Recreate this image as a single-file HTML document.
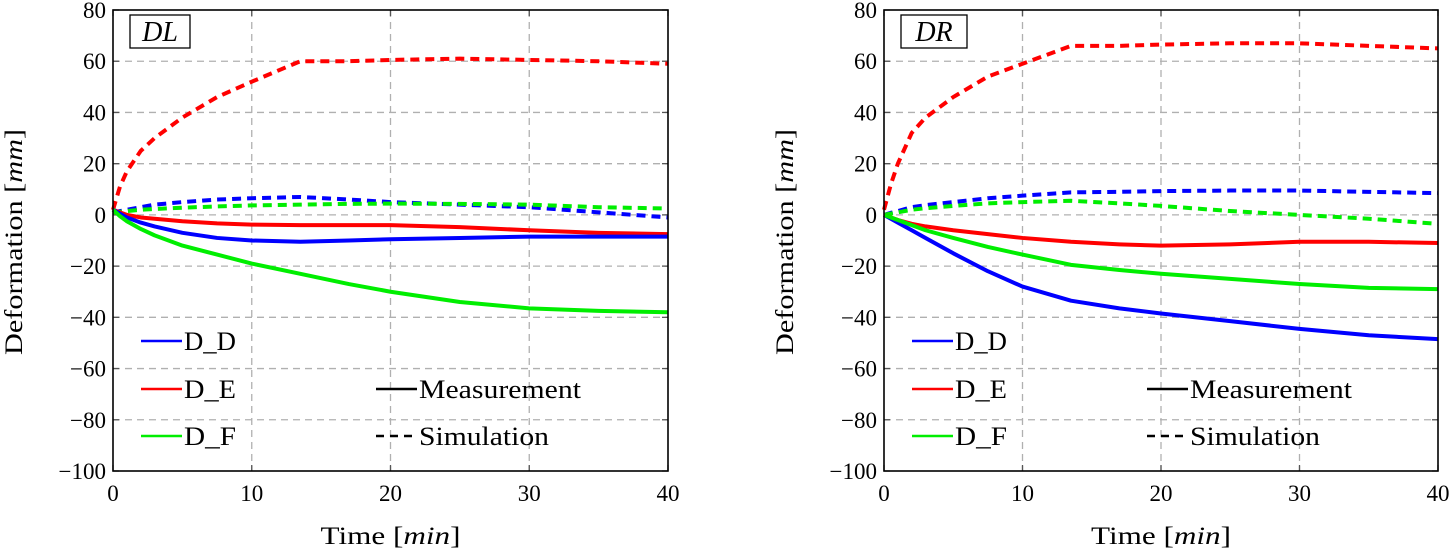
<!DOCTYPE html>
<html><head><meta charset="utf-8"><style>
body{margin:0;background:#fff}
svg{display:block;font-family:"Liberation Serif",serif}
</style></head><body>
<svg id="chart" width="1453" height="552" viewBox="0 0 1453 552"></svg>
<script>
const times=[0,0.5,1,2,3,5,7.5,10,13.5,17,20,25,30,35,40];
const xTicks=[0,10,20,30,40];
const yTicks=[80,60,40,20,0,-20,-40,-60,-80,-100];
const dlRedSim=[2,11,17,25,30,38,46,52,60,60,60.5,61,60.5,60,59];
const dlBlueSim=[1,1.5,2,3,4,5,6,6.5,7,6,5,4,3,1,-1];
const dlGreenSim=[1,1.2,1.5,2,2.3,2.8,3.3,3.7,4,4.3,4.4,4.3,4,3,2.5];
const dlRedMeas=[2,1,0,-1,-1.5,-2.5,-3.3,-3.8,-4,-4,-4,-4.8,-6,-7,-7.5];
const dlBlueMeas=[2,0.5,-1,-3,-4.5,-7,-9,-10,-10.5,-10,-9.5,-9,-8.5,-8.5,-8.5];
const dlGreenMeas=[2,-0.5,-2.5,-5.5,-8,-12,-15.5,-19,-23,-27,-30,-34,-36.5,-37.5,-38];
const drRedSim=[2,12,20,32,38,46,54,59,66,66,66.5,67,67,66,65];
const drBlueSim=[0,0.8,1.5,3,3.8,5,6.5,7.5,8.8,9,9.3,9.5,9.5,9,8.5];
const drGreenSim=[0,0.5,1,2,2.6,3.5,4.5,5,5.5,4.5,3.5,1.5,0,-1.5,-3.5];
const drRedMeas=[0,-1,-2,-3.5,-4.5,-6,-7.5,-9,-10.5,-11.5,-12,-11.5,-10.5,-10.5,-11];
const drBlueMeas=[0,-1.5,-3,-6,-9,-15,-22,-28,-33.5,-36.5,-38.5,-41.5,-44.5,-47,-48.5];
const drGreenMeas=[0,-1,-2,-4,-6,-9,-12.5,-15.5,-19.5,-21.5,-23,-25,-27,-28.5,-29];

const NS="http://www.w3.org/2000/svg";
const svg=document.getElementById('chart');
function mk(tag,attrs,parent,text){const e=document.createElementNS(NS,tag);for(const k in attrs)e.setAttribute(k,attrs[k]);if(text!==undefined)e.textContent=text;(parent||svg).appendChild(e);return e;}

function panel(name,x0,x1,series,label){
  const y0=10,y1=471;
  const sx=v=>x0+(v-0)/40*(x1-x0);
  const sy=v=>y0+(80-v)/180*(y1-y0);
  const g=mk('g',{});
  
  
  xTicks.forEach(t=>{
    if(t>0&&t<40){const l=mk('line',{x1:sx(t),x2:sx(t),y1:y0,y2:y1,stroke:'#b0b0b0','stroke-width':1.3,'stroke-dasharray':'7 5'},g);
    }
    mk('line',{x1:sx(t),x2:sx(t),y1:y1,y2:y1-6,stroke:'#555','stroke-width':1.3},g);
    mk('line',{x1:sx(t),x2:sx(t),y1:y0,y2:y0+6,stroke:'#555','stroke-width':1.3},g);
    const tx=mk('text',{x:sx(t),y:501,'font-size':23,'text-anchor':'middle'},g,String(t));
    
  });
  yTicks.forEach(t=>{
    if(t<80&&t>-100){const l=mk('line',{x1:x0,x2:x1,y1:sy(t),y2:sy(t),stroke:'#b0b0b0','stroke-width':1.3,'stroke-dasharray':'7 5'},g);
    }
    mk('line',{x1:x0,x2:x0+6,y1:sy(t),y2:sy(t),stroke:'#555','stroke-width':1.3},g);
    mk('line',{x1:x1,x2:x1-6,y1:sy(t),y2:sy(t),stroke:'#555','stroke-width':1.3},g);
    const tx=mk('text',{x:x0-7,y:sy(t)+8,'font-size':23,'text-anchor':'end'},g,t<0?'\u2212'+(-t):String(t));
    
  });
  series.forEach(s=>{
    const pts=times.map((t,i)=>sx(t)+','+sy(s.v[i])).join(' ');
    const p=mk('polyline',{points:pts,fill:'none',stroke:s.c,'stroke-width':4,'stroke-linejoin':'round','stroke-dasharray':s.d?'9 6':'none'},g);
    
  });
  const fr=mk('rect',{x:x0,y:y0,width:x1-x0,height:y1-y0,fill:'none',stroke:'#000','stroke-width':1.6},g);
  
  const bw=label==='DL'?60:66;
  const lb=mk('rect',{x:x0+17,y:15,width:bw,height:33,fill:'#fff',stroke:'#000','stroke-width':1.3},g);
  
  const lt=mk('text',{x:x0+17+bw/2,y:41,'font-size':28,'font-style':'italic','text-anchor':'middle'},g,label);
  
  const leg=[['D_D','#0000ff',341],['D_E','#ff0000',389],['D_F','#00ee00',436]];
  leg.forEach(([t,c,y])=>{
    const ll=mk('line',{x1:x0+28,x2:x0+69,y1:y,y2:y,stroke:c,'stroke-width':2.5},g);
    
    const lx=mk('text',{x:x0+71,y:y+9,'font-size':26,textLength:52,lengthAdjust:'spacingAndGlyphs'},g,t);
    
  });
  const m1=mk('line',{x1:x0+263,x2:x0+304,y1:389,y2:389,stroke:'#000','stroke-width':2.5},g);
  
  const m2=mk('text',{x:x0+306,y:398,'font-size':26,textLength:162,lengthAdjust:'spacingAndGlyphs'},g,'Measurement');
  
  const s1=mk('line',{x1:x0+263,x2:x0+304,y1:436,y2:436,stroke:'#000','stroke-width':2.5,'stroke-dasharray':'8 6'},g);
  
  const s2=mk('text',{x:x0+306,y:445,'font-size':26,textLength:130,lengthAdjust:'spacingAndGlyphs'},g,'Simulation');
  
  const xl=mk('text',{x:(x0+x1)/2,y:544,'font-size':25,'text-anchor':'middle',textLength:140,lengthAdjust:'spacingAndGlyphs'},g);
  
  xl.innerHTML='Time [<tspan font-style="italic">min</tspan>]';
  const yl=mk('text',{x:0,y:0,'font-size':25,'text-anchor':'middle',textLength:226,lengthAdjust:'spacingAndGlyphs',transform:`translate(${x0-91},242) rotate(-90)`},g);
  
  yl.innerHTML='Deformation [<tspan font-style="italic">mm</tspan>]';
}
panel('dl',113,668,[
  {n:'dl-red-sim',v:dlRedSim,c:'#ff0000',d:1},{n:'dl-blue-sim',v:dlBlueSim,c:'#0000ff',d:1},{n:'dl-green-sim',v:dlGreenSim,c:'#00ee00',d:1},
  {n:'dl-red-meas',v:dlRedMeas,c:'#ff0000'},{n:'dl-blue-meas',v:dlBlueMeas,c:'#0000ff'},{n:'dl-green-meas',v:dlGreenMeas,c:'#00ee00'}],'DL');
panel('dr',884,1438,[
  {n:'dr-red-sim',v:drRedSim,c:'#ff0000',d:1},{n:'dr-blue-sim',v:drBlueSim,c:'#0000ff',d:1},{n:'dr-green-sim',v:drGreenSim,c:'#00ee00',d:1},
  {n:'dr-red-meas',v:drRedMeas,c:'#ff0000'},{n:'dr-blue-meas',v:drBlueMeas,c:'#0000ff'},{n:'dr-green-meas',v:drGreenMeas,c:'#00ee00'}],'DR');
</script>
</body></html>
